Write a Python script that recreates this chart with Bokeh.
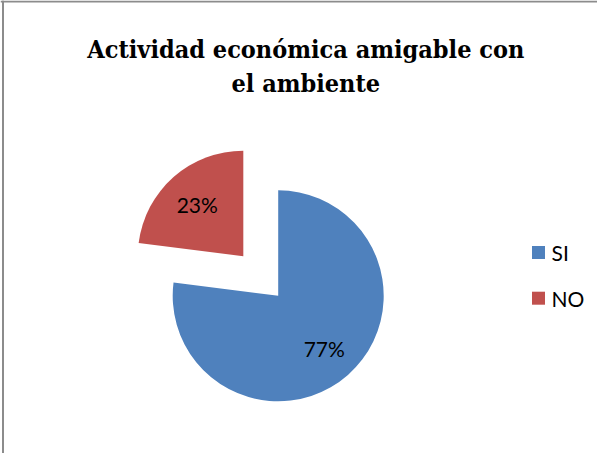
import numpy as np
from bokeh.plotting import figure
from bokeh.models import ColumnDataSource, Range1d, Span
from bokeh.core.properties import value
from bokeh.embed import file_html
from bokeh.resources import INLINE

# ---- data ----
title_lines = ["Actividad económica amigable con", "el ambiente"]
categories = ["SI", "NO"]
shares = [0.77, 0.23]
labels = ["77%", "23%"]
colors = ["#4F81BD", "#C0504D"]
explode = [0.0, 0.5]

# ---- layout (pixels on the canvas) ----
W, H = 597, 453
R = 105.5            # pie radius in px
CX, CY = 277.7, 295.3  # pie centre (canvas px, y from top)

def dx(px):
    return (px - CX) / R

def dy(py):
    return (CY - py) / R

p = figure(width=W, height=H, output_backend="svg", toolbar_location=None,
           x_axis_type=None, y_axis_type=None, min_border=0,
           x_range=Range1d(dx(0), dx(W)), y_range=Range1d(dy(H), dy(0)))
p.outline_line_color = None
p.background_fill_color = "white"
p.border_fill_color = "white"
p.grid.visible = False

# frame border (left and top only visible in reference)
p.add_layout(Span(location=dx(2.5), dimension="height", line_color="#8c8c8c", line_width=2))
p.add_layout(Span(location=dy(1.0), dimension="width", line_color="#8c8c8c", line_width=2))

# ---- pie ----
vals = np.array(shares, dtype=float)
frac = vals / vals.sum()
cum = np.concatenate([[0.0], np.cumsum(frac)])
start = np.pi / 2 - cum[:-1] * 2 * np.pi
end = np.pi / 2 - cum[1:] * 2 * np.pi
mid = (start + end) / 2
ex = np.array(explode)
vx = ex * np.cos(mid)
vy = ex * np.sin(mid)

src = ColumnDataSource(dict(x=vx, y=vy, start=start, end=end, color=colors,
                            cat=categories, label=labels,
                            lx=vx + 0.66 * np.cos(mid), ly=vy + 0.66 * np.sin(mid)))
p.wedge(x="x", y="y", radius=1.0, start_angle="start", end_angle="end",
        direction="clock", fill_color="color", line_color=None, source=src)
p.text(x="lx", y="ly", text="label", source=src, text_font=value("Lato"),
       text_font_size="21px", text_align="center", text_baseline="middle",
       text_color="black")

# ---- legend ----
leg_x = [dx(546 - 8)] * len(categories)
leg_y = [dy(260 - 8 + i * 45.7) for i in range(len(categories))]
leg_tx = [dx(559 - 8)] * len(categories)
lsrc = ColumnDataSource(dict(x=leg_x, y=leg_y, tx=leg_tx, cat=categories, color=colors))
p.scatter(x="x", y="y", marker="square", size=13, fill_color="color", line_color=None, source=lsrc)
p.text(x="tx", y="y", text="cat", source=lsrc, text_font=value("Lato"),
       text_font_size="21px", text_align="left", text_baseline="middle", text_color="black")

# ---- title ----
tsrc = ColumnDataSource(dict(
    x=[dx(313.3 - 8)] * len(title_lines),
    y=[dy(56.5 - 8 + i * 34) for i in range(len(title_lines))],
    t=title_lines))
p.text(x="x", y="y", text="t", source=tsrc,
       text_font=value("'DejaVu Serif Condensed', 'DejaVu Serif'"),
       text_font_style="bold", text_font_size="25px", text_align="center",
       text_baseline="alphabetic", text_color="black")

open("out.html", "w").write(file_html(p, INLINE))
